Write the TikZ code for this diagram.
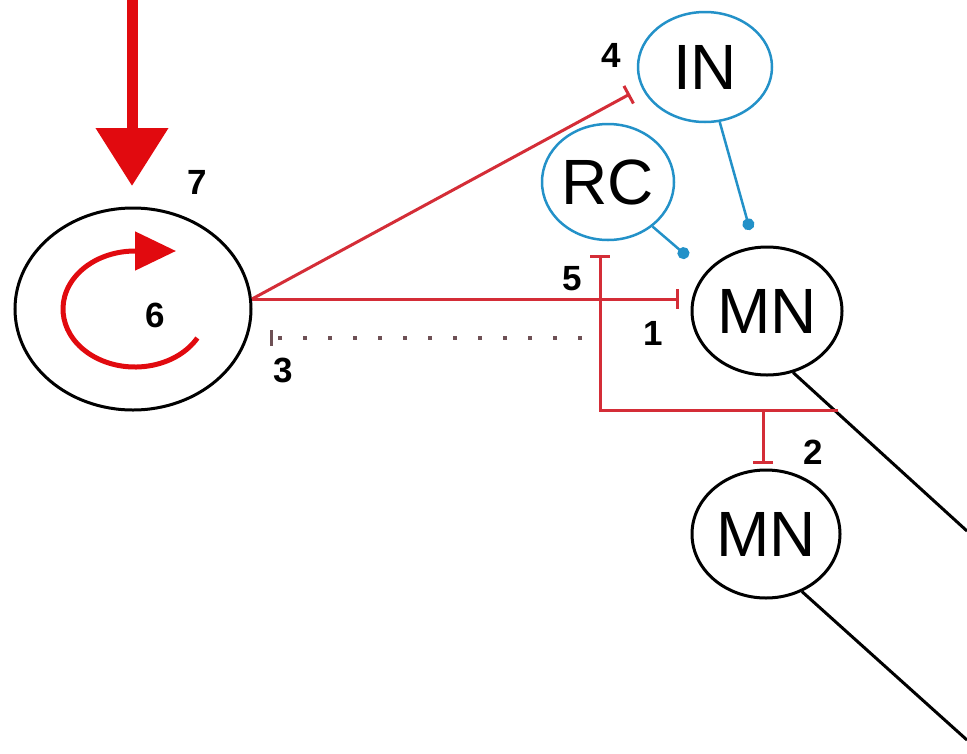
\documentclass[tikz,border=0pt]{standalone}
\usepackage{fontspec}
\setmainfont{Liberation Sans}
\usetikzlibrary{arrows.meta,shapes.geometric}
\definecolor{drivered}{RGB}{225,10,15}
\definecolor{inhred}{RGB}{212,45,55}
\definecolor{dotred}{RGB}{110,80,85}
\definecolor{cellblue}{RGB}{35,145,200}
\tikzset{
  cell/.style={ellipse,draw=black,line width=3pt,inner sep=0pt,
    font=\fontsize{64}{64}\selectfont},
  bluecell/.style={cell,draw=cellblue,line width=2.5pt},
  num/.style={font=\fontsize{35}{35}\selectfont\bfseries,inner sep=0pt},
  inh/.style={draw=inhred,line width=3pt,-{Bar[width=20pt,line width=3pt]}},
  dotinh/.style={draw=dotred,line width=3.5pt,dash pattern=on 4pt off 21pt,
    -{Bar[width=16pt,line width=2.5pt]}},
  excite/.style={draw=cellblue,line width=2.5pt,-{Circle[length=12pt,width=12pt]}},
  axon/.style={draw=black,line width=3pt},
}
\begin{document}
\begin{tikzpicture}[x=1pt,y=-1pt]
\path[use as bounding box] (0,0) rectangle (967,753);

% cells
\node[cell,minimum width=236pt,minimum height=202pt] (cpg) at (133,309) {};
\node[bluecell,minimum width=134pt,minimum height=110pt] (in) at (705,67) {IN};
\node[bluecell,minimum width=132pt,minimum height=116pt] (rc) at (608,182) {RC};
\node[cell,minimum width=150pt,minimum height=128pt] (mn1) at (767,311) {MN};
\node[cell,minimum width=148pt,minimum height=128pt] (mn2) at (766,534) {MN};

% descending drive
\coordinate (drivetop) at (132,0);
\coordinate (drivetip) at (132,186);
\draw[drivered,line width=11pt,-{Triangle[length=58pt,width=70pt]}] (drivetop) -- (drivetip);

% rhythm generator symbol
\coordinate (loopstart) at ({135+72*cos(30)},{309+58*sin(30)});
\coordinate (loophead) at (135,251);
\coordinate (looptip) at (176,251);
\draw[drivered,line width=5pt]
  (loopstart) arc[start angle=30,end angle=270,x radius=72,y radius=58];
\draw[drivered,line width=5pt,-{Triangle[length=41pt,width=38pt]}] (loophead) -- (looptip);

% inhibitory projections
\coordinate (src) at (252,299);
\coordinate (toin) at (630,94);
\coordinate (tomn) at (679,299);
\draw[inh] (src) -- (toin);
\draw[inh] (src) -- (tomn);
\coordinate (dotr) at (582,338);
\coordinate (dotl) at (270,338);
\draw[dotinh] (dotr) -- (dotl);

% motor axons
\coordinate (ax1end) at (967,531);
\coordinate (ax2end) at (967,740);
\draw[axon] (mn1.-67) -- (ax1end);
\draw[axon] (mn2.-58) -- (ax2end);

% recurrent collaterals
\coordinate (coll) at (838,410);
\coordinate (collcorner) at (600,410);
\coordinate (colltop) at (600,255);
\coordinate (branch) at (763,410);
\coordinate (tomn2) at (763,464);
\draw[inh] (coll) -- (collcorner) -- (colltop);
\draw[inh] (branch) -- (tomn2);

% excitatory synapses onto the motoneuron
\coordinate (rcsyn) at (688,257);
\coordinate (insyn) at (750,230);
\draw[excite] (rc.-45) -- (rcsyn);
\draw[excite] (in.-75) -- (insyn);

% labels
\node[num] (n1) at (653,333) {1};
\node[num] (n2) at (813,452) {2};
\node[num] (n3) at (283,370) {3};
\node[num] (n4) at (611,55) {4};
\node[num] (n5) at (572,279) {5};
\node[num] (n6) at (155,315) {6};
\node[num] (n7) at (197,182) {7};
\end{tikzpicture}
\end{document}
